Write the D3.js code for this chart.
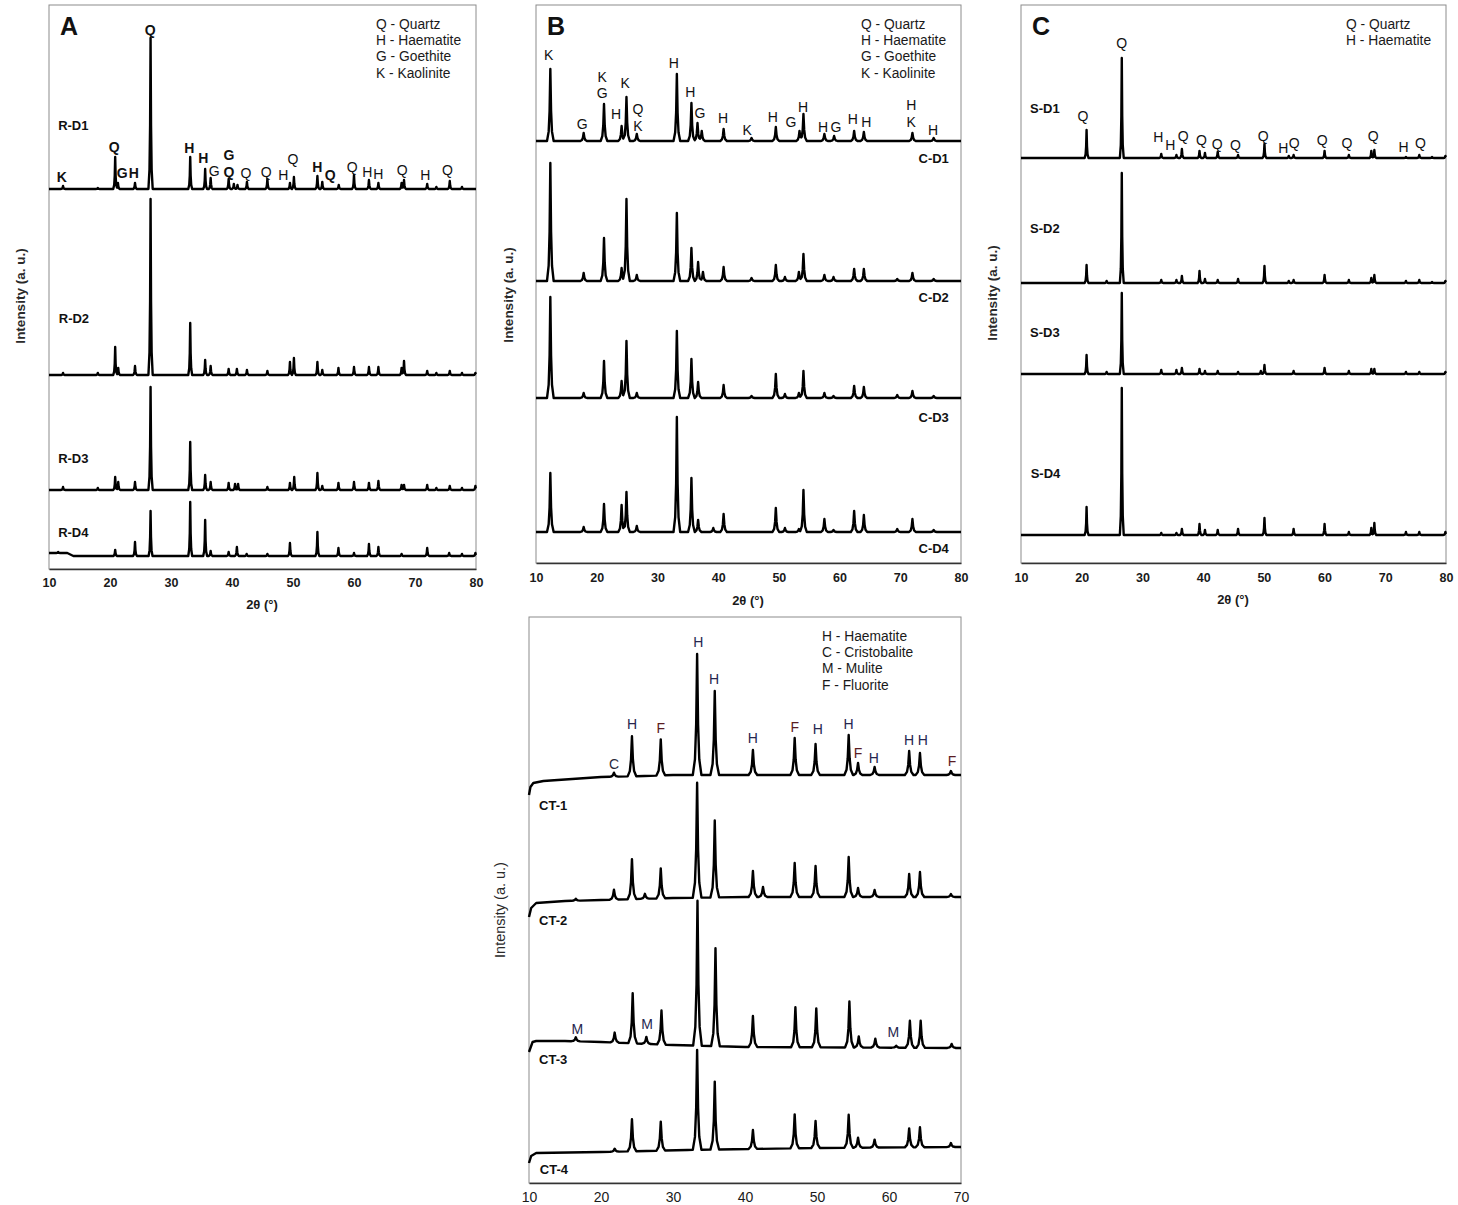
<!DOCTYPE html>
<html><head><meta charset="utf-8">
<script src="https://cdn.jsdelivr.net/npm/d3@7/dist/d3.min.js"></script>
<style>body{margin:0;background:#fff}svg{display:block}text{font-family:"Liberation Sans",Arial,sans-serif}</style>
</head><body>
<svg id="c" width="1458" height="1205"></svg>
<script>
// ---------- DATA (2θ in degrees, intensity in a.u.) ----------
const ticksABC = [10,20,30,40,50,60,70,80];
const ticksD = [10,20,30,40,50,60,70];
const legendA = ["Q - Quartz","H - Haematite","G - Goethite","K - Kaolinite"];
const legendB = ["Q - Quartz","H - Haematite","G - Goethite","K - Kaolinite"];
const legendC = ["Q - Quartz","H - Haematite"];
const legendD = ["H - Haematite","C - Cristobalite","M - Mulite","F - Fluorite"];

// peaks: [2θ, height, (half base width)]
const RD1 = [[12.3,3],[18.0,1],[20.85,32],[21.3,6],[24.1,6],[26.65,151,0.35],[33.15,32],[35.6,20],[36.5,11],[39.45,10],[40.3,5],[40.9,4],[42.45,7],[45.8,10],[49.5,6],[50.15,12],[54.0,13],[54.8,7],[57.5,4],[60.0,14],[62.45,9],[64.0,6],[67.8,6],[68.2,9],[72.0,5],[73.5,2],[75.7,8],[77.7,2]];
const RD2 = [[12.3,2],[18.0,2],[20.85,28],[21.35,7],[24.1,9],[26.65,176,0.35],[33.15,52],[35.6,15],[36.5,9],[39.45,6],[40.8,6],[42.45,5],[45.8,4],[49.5,13],[50.15,17],[54.0,13],[54.8,5],[57.45,7],[60.0,8],[62.45,8],[64.0,8],[67.8,7],[68.2,14],[72.0,4],[73.5,2],[75.7,4],[77.7,2],[79.9,2]];
const RD3 = [[12.3,3],[18.0,2],[20.85,13],[21.35,8],[24.1,8],[26.65,103,0.35],[33.15,48],[35.6,15],[36.5,8],[39.45,7],[40.5,6],[41.0,6],[45.8,3],[49.5,7],[50.2,13],[54.0,17],[54.8,4],[57.45,7],[60.0,8],[62.45,7],[64.0,9],[67.8,5],[68.2,5],[72.0,5],[73.5,2],[75.7,4],[77.7,2],[79.9,4]];
const RD4 = [[11.5,1],[20.85,6],[24.1,14],[26.65,45],[33.15,54],[35.6,36],[36.5,5],[39.45,4],[40.8,9],[42.4,2],[45.8,2],[49.5,13],[54.0,24],[57.45,8],[60.0,3],[62.45,12],[64.0,9],[67.8,2],[72.0,8],[75.6,3],[77.7,2],[79.9,3]];

const CD1 = [[12.36,72],[17.85,8],[21.2,37],[24.1,15],[24.9,44],[26.6,7],[33.2,67],[35.6,38],[36.6,18],[37.3,10],[40.9,12],[45.5,3],[49.5,14],[53.4,10],[54.05,27],[57.5,7],[59.1,5],[62.4,10],[64.0,9],[72.0,8],[75.5,3]];
const CD2 = [[12.36,118],[17.85,8],[21.2,43],[24.1,13],[24.9,82],[26.6,6],[33.2,68],[35.6,33],[36.7,19],[37.5,9],[40.9,14],[45.5,3],[49.5,16],[51.0,4],[53.3,9],[54.05,27],[57.5,6],[59.0,4],[62.4,12],[64.0,12],[69.5,2],[72.0,8],[75.5,2]];
const CD3 = [[12.36,101],[17.85,5],[21.2,37],[24.1,17],[24.9,57],[26.6,5],[33.2,67],[35.6,39],[36.7,16],[40.9,13],[45.5,2],[49.5,24],[51.0,4],[53.3,5],[54.05,27],[57.5,5],[59.0,2],[62.4,12],[64.0,11],[69.5,3],[72.0,7],[75.5,2]];
const CD4 = [[12.36,59],[17.85,5],[21.2,28],[24.1,27],[24.9,40],[26.6,6],[33.2,115],[35.6,54],[36.7,12],[39.2,4],[40.9,18],[49.5,24],[51.0,4],[53.3,3],[54.05,42],[57.5,13],[59.0,2],[62.4,21],[64.0,17],[69.5,3],[72.0,13],[75.5,2]];

const SD1 = [[20.8,28],[26.6,100],[33.1,4],[35.6,3],[36.5,9],[39.4,7],[40.3,5],[42.4,6],[45.75,3],[50.1,14],[54.1,2],[54.9,3],[60.0,7],[64.0,3],[67.7,7],[68.2,8],[73.4,1],[75.6,3],[77.7,1],[79.9,2]];
const SD2 = [[20.8,18],[24.1,2],[26.6,110],[33.1,3],[35.6,3],[36.5,7],[39.4,12],[40.3,4],[42.4,3],[45.75,4],[50.1,17],[54.1,2],[54.9,3],[60.0,8],[64.0,3],[67.7,5],[68.2,8],[73.4,2],[75.6,3],[77.7,1],[79.9,2]];
const SD3 = [[20.8,19],[24.1,2],[26.6,81],[33.1,4],[35.6,4],[36.5,6],[39.4,5],[40.3,3],[42.4,3],[45.75,2],[49.5,3],[50.1,9],[54.9,3],[60.0,6],[64.0,3],[67.7,5],[68.2,5],[73.4,2],[75.6,2],[79.9,2]];
const SD4 = [[20.8,28],[26.6,147],[33.1,2],[35.6,2],[36.5,6],[39.4,11],[40.3,5],[42.4,5],[45.75,6],[50.1,17],[54.9,6],[60.0,11],[64.0,3],[67.7,7],[68.2,12],[73.4,3],[75.6,3],[79.9,3]];

const CT1 = [[21.8,4],[24.3,40],[28.3,36],[33.35,121],[35.8,84],[41.1,25],[46.9,37],[49.8,31],[54.4,40],[55.7,12],[58.0,8],[62.8,24],[64.3,22],[68.6,4]];
const CT2 = [[16.5,2],[21.8,10],[24.3,40],[26.1,5],[28.3,30],[33.35,115],[35.8,77],[41.1,26],[42.5,10],[46.9,34],[49.8,31],[54.4,40],[55.7,9],[58.0,7],[62.8,23],[64.3,25],[68.6,3]];
const CT3 = [[16.5,4],[21.9,10],[24.4,50],[26.3,7],[28.4,34],[33.4,145],[35.9,98],[41.1,31],[47.0,40],[49.9,39],[54.5,46],[55.8,11],[58.1,9],[61.0,2],[62.9,27],[64.4,27],[68.7,4]];
const CT4 = [[21.9,3],[24.3,32],[28.3,29],[33.35,100],[35.8,68],[41.1,19],[46.9,34],[49.8,27],[54.4,33],[55.7,10],[58.0,8],[62.8,19],[64.3,20],[68.6,4]];

// background (relative intensity) read at a few 2θ values
const flatBase = [[10,0],[80,0]];
const RD4base = [[10,3],[13,3],[14,0],[80,0]];
const CT1base = [[10,-20],[10.2,-12],[10.6,-8],[12,-6],[16,-4],[20,-2],[26,-1],[30,0],[70,0]];
const CT2base = [[10,-20],[10.3,-11],[11,-6],[15,-4],[20,-3],[30,-1],[40,0],[70,0]];
const CT3base = [[10,-4],[10.5,6],[11,7],[15,7],[20,6],[30,3],[40,1],[70,0]];
const CT4base = [[10,-16],[10.3,-9],[11,-6],[20,-5],[32,-3],[50,-1],[70,0]];

// stacking offsets (a.u.)
const offsetsA = [380,194,79,13];
const offsetsB = [422,282,165,31];
const offsetsC = [405,280,189,28];
const offsetsD = [408,286,135,36];

// sample names with label anchor [2θ, a.u.]
const namesA = [["R-D1",11.5,444],["R-D2",11.6,251],["R-D3",11.5,111],["R-D4",11.5,37]];
const namesB = [["C-D1",78.0,405],["C-D2",78.0,266],["C-D3",78.0,146],["C-D4",78.0,15]];
const namesC = [["S-D1",11.5,455],["S-D2",11.5,335],["S-D3",11.5,231],["S-D4",11.6,90]];
const namesD = [["CT-1",11.4,378],["CT-2",11.4,263],["CT-3",11.4,124],["CT-4",11.5,14]];

// phase annotations [letter, 2θ, a.u., bold]
const annA = [["K",12.1,392,1],["Q",20.7,422,1],["G",22.0,396,1],["H",23.9,396,1],["Q",26.6,539,1],["H",33.0,421,1],["H",35.3,411,1],["G",37.1,398,0],["G",39.5,414,1],["Q",39.5,397,1],["Q",42.3,396,0],["Q",45.6,397,0],["H",48.4,394,0],["Q",50.0,410,0],["H",54.0,402,1],["Q",56.1,394,1],["Q",59.7,402,0],["H",62.2,397,0],["H",64.0,395,0],["Q",67.9,399,0],["H",71.7,394,0],["Q",75.3,399,0]];
const annB = [["K",12.1,508],["G",17.6,439],["K",20.9,486],["G",20.9,470],["H",23.2,449],["K",24.7,480],["Q",26.8,454],["K",26.8,437],["H",32.7,500],["H",35.4,471],["G",37.0,450],["H",40.8,445],["K",44.8,433],["H",49.0,446],["G",52.0,441],["H",54.0,456],["H",57.3,436],["G",59.4,436],["H",62.2,444],["H",64.4,441],["H",71.8,458],["K",71.8,441],["H",75.4,433]];
const annC = [["Q",20.2,447],["Q",26.6,520],["H",32.6,426],["H",34.6,418],["Q",36.7,427],["Q",39.7,423],["Q",42.3,419],["Q",45.3,418],["Q",49.9,427],["H",53.2,415],["Q",55.0,420],["Q",59.6,423],["Q",63.7,420],["Q",68.0,427],["H",73.0,416],["Q",75.8,420]];
const annD = [["C",21.8,419],["H",24.3,459],["F",28.3,455],["H",33.5,541],["H",35.7,504],["H",41.1,445],["F",46.9,456],["H",50.1,454],["H",54.4,459],["F",55.7,430],["H",57.9,425],["H",62.8,443],["H",64.7,443],["F",68.75,422],["M",16.7,154],["M",26.4,159],["M",60.6,151]];

// ---------- DRAWING ----------
const svg = d3.select("#c");
const FONT = '"Liberation Sans",Arial,sans-serif';
const profile = [[0,1],[0.22,0.42],[0.5,0.13],[1,0]];
function peakVal(x,p,h,w){const t=Math.abs(x-p)/w; if(t>=1)return 0;
  for(let i=1;i<profile.length;i++){if(t<=profile[i][0]){const a=profile[i-1],b=profile[i];return h*(a[1]+(b[1]-a[1])*(t-a[0])/(b[0]-a[0]));}} return 0;}
function baseAt(base,x){for(let i=1;i<base.length;i++){if(x<=base[i][0]){const a=base[i-1],b=base[i];return a[1]+(b[1]-a[1])*(x-a[0])/(b[0]-a[0]);}}return base[base.length-1][1];}
function trace(peaks,base,w0,off,x0,x1){
  const xs=new Set([x0,x1]); base.forEach(b=>xs.add(b[0]));
  peaks.forEach(pk=>{const w=pk[2]||w0; profile.forEach(q=>{xs.add(pk[0]-q[0]*w);xs.add(pk[0]+q[0]*w);});});
  const arr=[...xs].filter(x=>x>=x0&&x<=x1).sort((a,b)=>a-b);
  return arr.map(x=>[x,off+baseAt(base,x)+d3.sum(peaks,pk=>peakVal(x,pk[0],pk[1],pk[2]||w0))]);
}

const blackMap = {};
const colorD = {H:"#26264e",F:"#5a1c22",C:"#2a2a3a",M:"#26264e"};
const panels = [
 {letter:"A",xr:[49,476],yr:[569,5],dom:[10,80],ydom:[0,564],ticks:ticksABC,series:[RD1,RD2,RD3,RD4],bases:[flatBase,flatBase,flatBase,RD4base],off:offsetsA,w:0.32,names:namesA,nameAnchor:"start",ann:annA,annCol:blackMap,legend:legendA,lx:376,ly:24,
  tickY:583,xlab:[262,604],ylab:[20,296],bold:true},
 {letter:"B",xr:[536,961],yr:[563,5],dom:[10,80],ydom:[0,558],ticks:ticksABC,series:[CD1,CD2,CD3,CD4],bases:[flatBase,flatBase,flatBase,flatBase],off:offsetsB,w:0.55,names:namesB,nameAnchor:"end",ann:annB,annCol:blackMap,legend:legendB,lx:861,ly:24,
  tickY:578,xlab:[748,600],ylab:[508,295],bold:true},
 {letter:"C",xr:[1021,1446],yr:[563,5],dom:[10,80],ydom:[0,558],ticks:ticksABC,series:[SD1,SD2,SD3,SD4],bases:[flatBase,flatBase,flatBase,flatBase],off:offsetsC,w:0.32,names:namesC,nameAnchor:"start",ann:annC,annCol:blackMap,legend:legendC,lx:1346,ly:24,
  tickY:578,xlab:[1233,599],ylab:[992,293],bold:true},
 {letter:null,xr:[529,961],yr:[1183,617],dom:[10,70],ydom:[0,566],ticks:ticksD,series:[CT1,CT2,CT3,CT4],bases:[CT1base,CT2base,CT3base,CT4base],off:offsetsD,w:0.6,names:namesD,nameAnchor:"start",ann:annD,annCol:colorD,legend:legendD,lx:822,ly:636,
  tickY:1197,xlab:null,ylab:[500,910],bold:false}
];

panels.forEach(P=>{
  const x=d3.scaleLinear().domain(P.dom).range(P.xr);
  const y=d3.scaleLinear().domain(P.ydom).range(P.yr);
  const g=svg.append("g");
  g.append("rect").attr("x",P.xr[0]).attr("y",P.yr[1]).attr("width",P.xr[1]-P.xr[0]).attr("height",P.yr[0]-P.yr[1])
   .attr("fill","none").attr("stroke","#8c8c8c").attr("stroke-width",1);
  const ax=g.append("g").attr("transform",`translate(0,${P.yr[0]})`)
   .call(d3.axisBottom(x).tickValues(P.ticks).tickSize(0).tickPadding(0).tickFormat(d3.format("d")));
  ax.select(".domain").attr("stroke","#333").attr("stroke-width",1.4);
  ax.selectAll("text").attr("y",P.tickY-P.yr[0]).attr("dy","0.35em").attr("font-family",FONT)
    .attr("font-size",P.bold?12.5:14).attr("font-weight",P.bold?"bold":"normal").attr("fill","#1a1a1a");
  const line=d3.line().x(d=>x(d[0])).y(d=>y(d[1]));
  P.series.forEach((s,i)=>{
    g.append("path").attr("d",line(trace(s,P.bases[i],P.w,P.off[i],P.dom[0],P.dom[1])))
     .attr("fill","none").attr("stroke","#000").attr("stroke-width",2.4).attr("stroke-linejoin","round");
  });
  P.names.forEach(n=>{
    g.append("text").attr("x",x(n[1])).attr("y",y(n[2])).attr("dy","0.35em").attr("text-anchor",P.nameAnchor)
     .attr("font-size",13).attr("font-weight","bold").attr("fill","#111").text(n[0]);
  });
  P.ann.forEach(a=>{
    g.append("text").attr("x",x(a[1])).attr("y",y(a[2])).attr("dy","0.35em").attr("text-anchor","middle")
     .attr("font-size",14).attr("font-weight",a[3]?"bold":"normal").attr("fill",P.annCol[a[0]]||"#111").text(a[0]);
  });
  P.legend.forEach((t,i)=>{
    g.append("text").attr("x",P.lx).attr("y",P.ly+i*16.3).attr("dy","0.35em").attr("font-size",13.8).attr("fill","#1a1a1a").text(t);
  });
  if(P.letter){
    g.append("text").attr("x",P.xr[0]+11).attr("y",26).attr("dy","0.35em").attr("font-size",25).attr("font-weight","bold").attr("fill","#111").text(P.letter);
  }
  if(P.xlab){
    g.append("text").attr("x",P.xlab[0]).attr("y",P.xlab[1]).attr("dy","0.35em").attr("text-anchor","middle")
     .attr("font-size",13).attr("font-weight","bold").attr("fill","#1a1a1a").text("2θ (°)");
  }
  g.append("text").attr("transform",`translate(${P.ylab[0]},${P.ylab[1]}) rotate(-90)`).attr("dy","0.35em").attr("text-anchor","middle")
   .attr("font-size",P.bold?13.5:14.5).attr("font-weight",P.bold?"bold":"normal").attr("fill","#2a2a2a").text("Intensity (a. u.)");
});
</script>
</body></html>
